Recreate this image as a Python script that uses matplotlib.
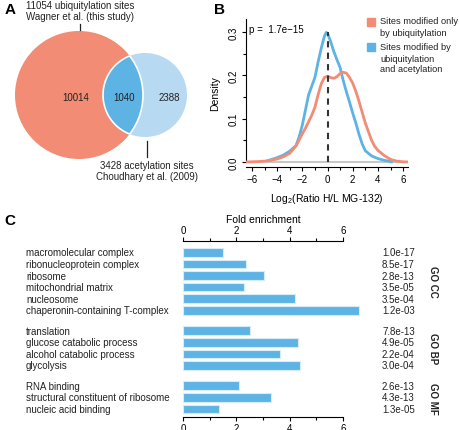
import matplotlib
matplotlib.use("Agg")
import matplotlib.pyplot as plt
from matplotlib.patches import Circle
from matplotlib.transforms import blended_transform_factory

plt.rcParams['font.family'] = ['Liberation Sans', 'DejaVu Sans']
plt.rcParams['mathtext.fontset'] = 'custom'
plt.rcParams['mathtext.rm'] = 'Liberation Sans'
plt.rcParams['mathtext.it'] = 'Liberation Sans:italic'

# --- donnees panel A (Venn)
n_ubi_only = 10014
n_both = 1040
n_acet_only = 2388
n_ubi_total = 11054
n_acet_total = 3428

# --- donnees panel B (densites)
x_only_ubi = [-6.5, -5.5, -5.0, -4.5, -4.0, -3.5, -3.0, -2.5, -2.0, -1.75, -1.5, -1.25,
              -1.0, -0.75, -0.5, -0.25, 0.0, 0.25, 0.5, 0.75, 1.0, 1.25, 1.5, 1.75,
              2.0, 2.25, 2.5, 2.75, 3.0, 3.25, 3.5, 3.75, 4.0, 4.5, 5.0, 5.5, 6.0, 6.5]
d_only_ubi = [0.0, 0.001, 0.002, 0.004, 0.007, 0.012, 0.02, 0.037, 0.065, 0.078, 0.093, 0.108,
              0.126, 0.155, 0.18, 0.195, 0.198, 0.195, 0.193, 0.197, 0.204, 0.207, 0.205, 0.195,
              0.182, 0.163, 0.14, 0.115, 0.09, 0.07, 0.05, 0.036, 0.027, 0.015, 0.006, 0.002, 0.0005, 0.0]
x_ubi_acet = [-4.75, -4.0, -3.5, -3.0, -2.5, -2.25, -2.0, -1.75, -1.5, -1.25, -1.0, -0.75,
              -0.5, -0.25, -0.1, 0.0, 0.25, 0.5, 0.75, 1.0, 1.25, 1.5, 1.75, 2.0, 2.25,
              2.5, 2.75, 3.0, 3.5, 4.0, 4.5, 5.0, 5.1]
d_ubi_acet = [0.003, 0.01, 0.016, 0.025, 0.038, 0.058, 0.085, 0.12, 0.155, 0.175, 0.195, 0.23,
              0.262, 0.29, 0.299, 0.297, 0.278, 0.255, 0.236, 0.218, 0.188, 0.162, 0.138, 0.113, 0.09,
              0.064, 0.042, 0.026, 0.014, 0.008, 0.004, 0.001, 0.0]
p_value_b = "1.7e\u221215"

# --- donnees panel C (GO)
go_groups = ["GO CC", "GO BP", "GO MF"]
go_terms = [
    ["macromolecular complex", "ribonucleoprotein complex", "ribosome",
     "mitochondrial matrix", "nucleosome", "chaperonin-containing T-complex"],
    ["translation", "glucose catabolic process", "alcohol catabolic process", "glycolysis"],
    ["RNA binding", "structural constituent of ribosome", "nucleic acid binding"],
]
go_fold = [
    [1.5, 2.35, 3.05, 2.3, 4.2, 6.6],
    [2.5, 4.3, 3.65, 4.4],
    [2.1, 3.3, 1.35],
]
go_pvals = [
    ["1.0e-17", "8.5e-17", "2.8e-13", "3.5e-05", "3.5e-04", "1.2e-03"],
    ["7.8e-13", "4.9e-05", "2.2e-04", "3.0e-04"],
    ["2.6e-13", "4.3e-13", "1.3e-05"],
]

RED = '#F28C74'
BLUE = '#5DB3E4'
LIGHT = '#B8D9F2'

W, H = 459, 431
fig = plt.figure(figsize=(W / 100, H / 100), dpi=100)


def px_axes(x0, y0, x1, y1):
    # axes en coordonnees pixels (origine en haut a gauche)
    return fig.add_axes([x0 / W, 1 - y1 / H, (x1 - x0) / W, (y1 - y0) / H])


# ---------------- Panel A
axA = px_axes(0, 0, 225, 200)
axA.set_xlim(0, 225)
axA.set_ylim(200, 0)
axA.axis('off')

big = Circle((79, 96), 64, facecolor=RED, edgecolor='none')
small = Circle((145, 96), 42, facecolor=LIGHT, edgecolor='none')
axA.add_patch(big)
axA.add_patch(small)
lens = Circle((145, 96), 42, facecolor=BLUE, edgecolor='white', lw=1.2)
axA.add_patch(lens)
lens.set_clip_path(big)
rim = Circle((79, 96), 64, facecolor='none', edgecolor='white', lw=1.2)
axA.add_patch(rim)
rim.set_clip_path(small)

fs = 7
axA.text(76, 98, str(n_ubi_only), ha='center', va='center', fontsize=fs, color='#222222')
axA.text(124, 98, str(n_both), ha='center', va='center', fontsize=fs, color='#222222')
axA.text(169, 98, str(n_acet_only), ha='center', va='center', fontsize=fs, color='#222222')
axA.text(80, 6, f"{n_ubi_total} ubiquitylation sites", ha='center', va='center', fontsize=fs, color='#222222')
axA.text(80, 16.5, "Wagner et al. (this study)", ha='center', va='center', fontsize=fs, color='#222222')
axA.plot([80, 80], [25, 31], color='#222222', lw=0.9)
axA.text(147, 166, f"{n_acet_total} acetylation sites", ha='center', va='center', fontsize=fs, color='#222222')
axA.text(147, 177, "Choudhary et al. (2009)", ha='center', va='center', fontsize=fs, color='#222222')
axA.plot([147, 147], [142, 158], color='#222222', lw=0.9)

fig.text(5 / W, 1 - 10 / H, "A", fontsize=11, fontweight='bold', va='center')
fig.text(214 / W, 1 - 10 / H, "B", fontsize=11, fontweight='bold', va='center')
fig.text(4 / W, 1 - 221 / H, "C", fontsize=11, fontweight='bold', va='center')

# ---------------- Panel B
x_left, x_right = -6.5, 6.4
axB = px_axes(327.5 + x_left * 12.6, 20, 327.5 + x_right * 12.6, 168)
axB.plot([x_left, x_right], [0, 0], color='#C8C8C8', lw=1.5, zorder=1)
axB.plot(x_ubi_acet, d_ubi_acet, color=BLUE, lw=2.0, solid_capstyle='round', zorder=2)
axB.plot(x_only_ubi, d_only_ubi, color=RED, lw=2.0, solid_capstyle='round', zorder=3)
axB.plot([0, 0], [0, max(d_ubi_acet)], color='#333333', lw=1.5, ls=(0, (3, 2.5)), zorder=4)
axB.set_xlim(x_left, x_right)
axB.set_ylim(-0.0115, 0.33)
for s in ['top', 'right']:
    axB.spines[s].set_visible(False)
axB.spines['left'].set_bounds(0, 0.33)
axB.set_xticks([-6, -4, -2, 0, 2, 4, 6])
axB.set_xticklabels(["\u22126", "\u22124", "\u22122", "0", "2", "4", "6"])
axB.set_xticks([-5, -3, -1, 1, 3, 5], minor=True)
axB.set_yticks([0, 0.1, 0.2, 0.3])
axB.set_yticklabels(["0.0", "0.1", "0.2", "0.3"], rotation=90, va='center')
axB.set_yticks([0.05, 0.15, 0.25], minor=True)
axB.tick_params(labelsize=7, length=3, width=0.8, pad=2)
axB.tick_params(which='minor', length=2, width=0.8)
axB.set_ylabel("Density", fontsize=7.5, labelpad=6)
axB.set_xlabel(r"Log$_{2}$(Ratio H/L MG-132)", fontsize=7.5, labelpad=5)
axB.text(0.02, 0.93, "p =  " + p_value_b, transform=axB.transAxes, fontsize=7, va='center')

# legende manuelle
fig.patches.append(plt.Rectangle((367 / W, 1 - 27 / H), 8 / W, 8 / H, color=RED,
                                 transform=fig.transFigure, figure=fig))
fig.patches.append(plt.Rectangle((367 / W, 1 - 52 / H), 8 / W, 8 / H, color=BLUE,
                                 transform=fig.transFigure, figure=fig))
leg_lines = [(22, "Sites modified only"), (33, "by ubiquitylation"),
             (48, "Sites modified by"), (59, "ubiquitylation"), (70, "and acetylation")]
for yy, txt in leg_lines:
    fig.text(380 / W, 1 - yy / H, txt, fontsize=6.7, va='center', color='#222222')

# ---------------- Panel C
gap = 0.75
ypos, labels, folds, pvals, group_centres = [], [], [], [], []
pos = 0.0
for g in range(len(go_groups)):
    start = pos
    for t, f, p in zip(go_terms[g], go_fold[g], go_pvals[g]):
        ypos.append(pos)
        labels.append(t)
        folds.append(f)
        pvals.append(p)
        pos += 1
    group_centres.append((start + pos - 1) / 2)
    pos += gap

u = 26.67  # pixels par unite
axC = px_axes(183, 242, 183 + 7 * u, 418)
axC.barh(ypos, folds, height=0.75, color=BLUE, edgecolor='#D6ECF9', lw=0.8)
axC.set_xlim(0, 7)
y_top = -(253.3 - 242) / 11.6
y_bot = ypos[-1] + (418 - 410) / 11.6
axC.set_ylim(y_bot, y_top)
axC.spines['left'].set_visible(False)
axC.spines['right'].set_visible(False)
axC.spines['top'].set_bounds(0, 6)
axC.spines['bottom'].set_bounds(0, 6)
axC.set_yticks([])
axC.set_xticks([0, 2, 4, 6])
axC.tick_params(axis='x', top=True, labeltop=True, labelsize=7, length=3, width=0.8, pad=2)
axC.tick_params(axis='x', bottom=True, labelbottom=True, pad=1.5)
axC.set_xticks([1, 3, 5], minor=True)
axC.tick_params(axis='x', which='minor', top=True, length=2, width=0.8)
axC.text(3, y_top - 1.9, "Fold enrichment", ha='center', va='center', fontsize=7.5)

trans = blended_transform_factory(fig.transFigure, axC.transData)
for y, t, p in zip(ypos, labels, pvals):
    axC.text(26 / W, y, t, transform=trans, fontsize=7, va='center', color='#222222')
    axC.text(382 / W, y, p, transform=trans, fontsize=7, va='center', color='#222222')
for g, yc in zip(go_groups, group_centres):
    axC.text(433 / W, yc, g, transform=trans, fontsize=7, fontweight='bold',
             rotation=-90, ha='center', va='center', color='#222222')

fig.savefig("out.png", dpi=100)
